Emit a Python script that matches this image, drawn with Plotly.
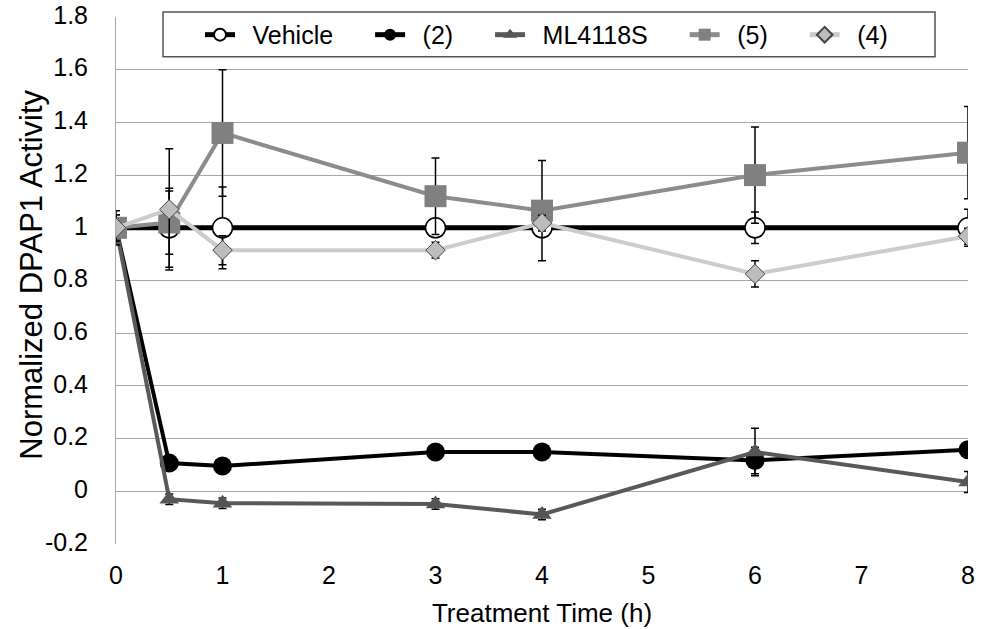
import plotly.graph_objects as go

# ---- data ----
time_h = [0, 0.5, 1, 3, 4, 6, 8]

vehicle = [1.0, 1.0, 1.0, 1.0, 1.0, 1.0, 1.0]
vehicle_err = [0.065, 0.15, 0.155, 0.02, 0.02, 0.06, 0.07]

cmpd2 = [1.0, 0.107, 0.096, 0.149, 0.149, 0.117, 0.158]
cmpd2_err = [0.05, 0.02, 0.02, 0.02, 0.02, 0.05, 0.02]

ml4118s = [1.0, -0.03, -0.045, -0.048, -0.088, 0.149, 0.035]
ml4118s_err = [0.03, 0.02, 0.02, 0.02, 0.02, 0.09, 0.04]

cmpd5 = [1.0, 1.02, 1.36, 1.12, 1.065, 1.20, 1.285]
cmpd5_err = [0.03, 0.12, 0.24, 0.145, 0.19, 0.183, 0.175]

cmpd4 = [1.0, 1.07, 0.915, 0.915, 1.018, 0.825, 0.968]
cmpd4_err = [0.05, 0.23, 0.055, 0.03, 0.03, 0.05, 0.03]

y_ticks = [-0.2, 0, 0.2, 0.4, 0.6, 0.8, 1, 1.2, 1.4, 1.6, 1.8]
y_tick_text = ["-0.2", "0", "0.2", "0.4", "0.6", "0.8", "1", "1.2", "1.4", "1.6", "1.8"]
x_ticks = [0, 1, 2, 3, 4, 5, 6, 7, 8]

FONT = "Liberation Sans, Arial, sans-serif"
LEAD = "\u2002"           # space between legend symbol and text
TRAIL = "\u2003\u00a0"    # extra space between legend entries


def err(vals):
    return dict(type="data", array=vals, visible=True, color="black",
                thickness=1.5, width=4)


fig = go.Figure()

fig.add_trace(go.Scatter(
    x=time_h, y=cmpd2, name=LEAD + "(2)" + TRAIL, mode="lines+markers", legendrank=2,
    line=dict(color="black", width=4),
    marker=dict(symbol="circle", size=19, color="black"),
    error_y=err(cmpd2_err)))

fig.add_trace(go.Scatter(
    x=time_h, y=ml4118s, name=LEAD + "ML4118S" + TRAIL, mode="lines+markers", legendrank=3,
    line=dict(color="#595959", width=4),
    marker=dict(symbol="triangle-up", size=17, color="#555555"),
    error_y=err(ml4118s_err)))

fig.add_trace(go.Scatter(
    x=time_h, y=vehicle, name=LEAD + "Vehicle" + TRAIL, mode="lines+markers", legendrank=1,
    line=dict(color="black", width=5),
    marker=dict(symbol="circle", size=20, color="white",
                line=dict(color="black", width=1.5)),
    error_y=err(vehicle_err)))

fig.add_trace(go.Scatter(
    x=time_h, y=cmpd5, name=LEAD + "(5)" + TRAIL, mode="lines+markers", legendrank=4,
    line=dict(color="#8c8c8c", width=4),
    marker=dict(symbol="square", size=22, color="#808080"),
    error_y=err(cmpd5_err)))

fig.add_trace(go.Scatter(
    x=time_h, y=cmpd4, name=LEAD + "(4)", mode="lines+markers", legendrank=5,
    line=dict(color="#cccccc", width=4),
    marker=dict(symbol="diamond", size=15, color="#bdbdbd",
                line=dict(color="#444444", width=1)),
    error_y=err(cmpd4_err)))

# legend frame (drawn as a shape so its extent matches the reference)
fig.add_shape(type="rect", xref="paper", yref="paper",
              x0=0.0552, x1=0.9613, y0=0.9244, y1=1.0095,
              fillcolor="white", line=dict(color="#555555", width=1.5),
              layer="above")

# y-axis title as an annotation for exact placement
fig.add_annotation(text="Normalized DPAP1 Activity", xref="paper", yref="paper",
                   x=-0.0986, y=0.511, xanchor="center", yanchor="middle",
                   textangle=-90, showarrow=False,
                   font=dict(family=FONT, size=31, color="black"))

fig.update_layout(
    width=990, height=629,
    margin=dict(l=116, r=22, t=15, b=85),
    paper_bgcolor="white", plot_bgcolor="white",
    font=dict(family=FONT, size=25, color="black"),
    showlegend=True,
    legend=dict(orientation="h", x=0.0986, xanchor="left", y=0.966, yanchor="middle",
                bgcolor="rgba(0,0,0,0)", borderwidth=0,
                font=dict(family=FONT, size=25, color="black"),
                itemsizing="constant"),
)

fig.update_xaxes(
    range=[0, 8], tickvals=x_ticks, showgrid=False, zeroline=False,
    showline=False, ticks="", ticklabelstandoff=14, automargin=False,
    ticklabeloverflow="allow",
    tickfont=dict(family=FONT, size=25, color="black"),
    title=dict(text="Treatment Time (h)", font=dict(family=FONT, size=26, color="black"),
               standoff=15))

fig.update_yaxes(
    range=[-0.2, 1.8], tickvals=y_ticks, ticktext=y_tick_text,
    showgrid=True, gridcolor="#a6a6a6", gridwidth=1,
    zeroline=False, showline=True, linecolor="#a6a6a6", linewidth=1,
    ticks="", ticklabelstandoff=22, ticklabelshift=-2, automargin=False,
    ticklabeloverflow="allow",
    tickfont=dict(family=FONT, size=25, color="black"))

# let the 990x629 figure fill the page exactly (no default body margin)
fig.write_html("out.html", config={"displayModeBar": False},
               post_script="document.body.style.margin='0px';document.body.style.overflow='hidden';")
